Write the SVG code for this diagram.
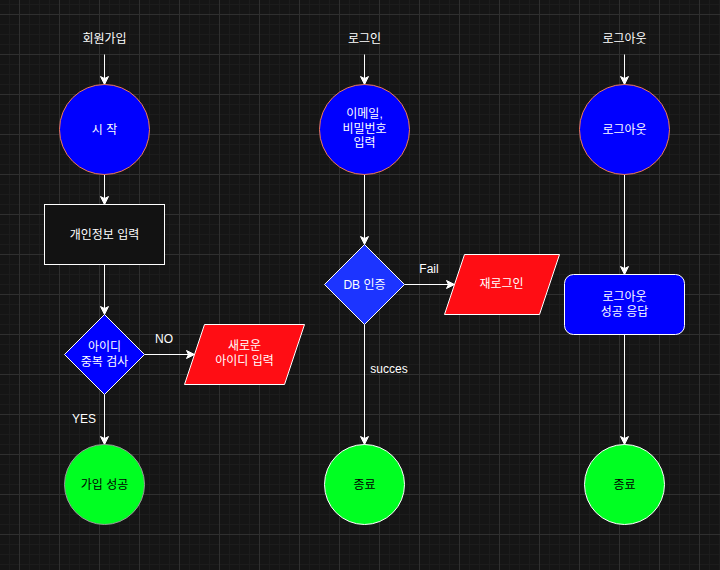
<svg xmlns="http://www.w3.org/2000/svg" width="720" height="570" viewBox="0 0 720 570">
<defs>
<pattern id="grid" patternUnits="userSpaceOnUse" x="19" y="14" width="40" height="40">
<rect width="40" height="40" fill="#151515"/>
<rect x="10" y="0" width="1" height="40" fill="#1c1c1c"/>
<rect x="20" y="0" width="1" height="40" fill="#1c1c1c"/>
<rect x="30" y="0" width="1" height="40" fill="#1c1c1c"/>
<rect x="0" y="10" width="40" height="1" fill="#1c1c1c"/>
<rect x="0" y="20" width="40" height="1" fill="#1c1c1c"/>
<rect x="0" y="30" width="40" height="1" fill="#1c1c1c"/>
<rect x="0" y="0" width="1" height="40" fill="#2f2f2f"/>
<rect x="0" y="0" width="40" height="1" fill="#2f2f2f"/>
</pattern>
<marker id="arr" markerUnits="userSpaceOnUse" markerWidth="12" markerHeight="12" viewBox="-10 -6 12 12" refX="0" refY="0" orient="auto">
<path d="M-8,-4 L0,0 L-8,4 L-6,0 Z" fill="#ffffff" stroke="#ffffff" stroke-width="1"/>
</marker>
</defs>
<style>
text{font-family:"Liberation Sans","Noto Sans CJK KR",sans-serif;font-size:12px;fill:#ffffff;text-anchor:middle;dominant-baseline:central}
.dark{fill:#000000}
.edge{stroke:#ffffff;stroke-width:1;fill:none;marker-end:url(#arr)}
.start{fill:#0000ff;stroke:#f07a55;stroke-width:1}
.end{fill:#00ff22;stroke:#ffffff;stroke-width:1}
.io{fill:#ff0d14;stroke:#ffffff;stroke-width:1}
.dec{stroke:#ffffff;stroke-width:1}
</style>
<rect width="720" height="570" fill="url(#grid)"/>

<g id="connectors">
<line class="edge" x1="104.5" y1="54.5" x2="104.5" y2="84.5"/>
<line class="edge" x1="104.5" y1="174.5" x2="104.5" y2="204.5"/>
<line class="edge" x1="104.5" y1="264.5" x2="104.5" y2="314.5"/>
<line class="edge" x1="144.5" y1="354.5" x2="194.5" y2="354.5"/>
<line class="edge" x1="104.5" y1="394.5" x2="104.5" y2="444.5"/>
<line class="edge" x1="364.5" y1="54.5" x2="364.5" y2="84.5"/>
<line class="edge" x1="364.5" y1="174.5" x2="364.5" y2="244.5"/>
<line class="edge" x1="404.5" y1="284.5" x2="454.5" y2="284.5"/>
<line class="edge" x1="364.5" y1="324.5" x2="364.5" y2="444.5"/>
<line class="edge" x1="624.5" y1="54.5" x2="624.5" y2="84.5"/>
<line class="edge" x1="624.5" y1="174.5" x2="624.5" y2="274.5"/>
<line class="edge" x1="624.5" y1="334.5" x2="624.5" y2="444.5"/>
<text x="164" y="339">NO</text>
<text x="84" y="419">YES</text>
<text x="429" y="269">Fail</text>
<text x="389" y="369">succes</text>
</g>

<g id="label-signup"><text x="104.5" y="39">회원가입</text></g>
<g id="label-login"><text x="364.5" y="39">로그인</text></g>
<g id="label-logout"><text x="624.5" y="39">로그아웃</text></g>

<g id="start">
<circle class="start" cx="104.5" cy="129.5" r="45"/>
<text x="104.5" y="129.5">시 작</text>
</g>
<g id="personal-info">
<rect x="44.5" y="204.5" width="120" height="60" fill="#121212" stroke="#ffffff"/>
<text x="104.5" y="234.5">개인정보 입력</text>
</g>
<g id="id-check">
<polygon class="dec" points="104.5,314.5 144.5,354.5 104.5,394.5 64.5,354.5" fill="#0000ff"/>
<text x="104.5" y="347">아이디</text>
<text x="104.5" y="362">중복 검사</text>
</g>
<g id="new-id">
<polygon class="io" points="204.5,324.5 304.5,324.5 284.5,384.5 184.5,384.5"/>
<text x="244.5" y="346">새로운</text>
<text x="244.5" y="361">아이디 입력</text>
</g>
<g id="signup-ok">
<circle cx="104.5" cy="484.5" r="40" fill="#00ff22" stroke="#999999"/>
<text class="dark" x="104.5" y="484.5">가입 성공</text>
</g>

<g id="email-input">
<circle class="start" cx="364.5" cy="129.5" r="45"/>
<text x="364.5" y="113.5">이메일,</text>
<text x="364.5" y="128.5">비밀번호</text>
<text x="364.5" y="143">입력</text>
</g>
<g id="db-auth">
<polygon class="dec" points="364.5,244.5 404.5,284.5 364.5,324.5 324.5,284.5" fill="#1c34ff"/>
<text x="364.5" y="284.5">DB 인증</text>
</g>
<g id="relogin">
<polygon class="io" points="464.5,254.5 559.5,254.5 539.5,314.5 444.5,314.5"/>
<text x="501.5" y="284">재로그인</text>
</g>
<g id="login-end">
<circle class="end" cx="364.5" cy="484.5" r="40"/>
<text class="dark" x="364.5" y="484.5">종료</text>
</g>

<g id="logout">
<circle class="start" cx="624.5" cy="129.5" r="45"/>
<text x="624.5" y="129.5">로그아웃</text>
</g>
<g id="logout-ok">
<rect x="564.5" y="274.5" width="120" height="60" rx="9" ry="9" fill="#0000ff" stroke="#ffffff"/>
<text x="624.5" y="297">로그아웃</text>
<text x="624.5" y="312">성공 응답</text>
</g>
<g id="logout-end">
<circle class="end" cx="624.5" cy="484.5" r="40"/>
<text class="dark" x="624.5" y="484.5">종료</text>
</g>
</svg>
